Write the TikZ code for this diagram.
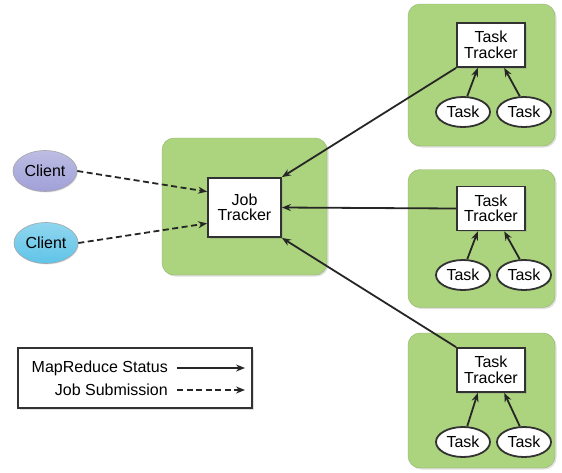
\documentclass[tikz,border=0pt]{standalone}
\usepackage{fontspec}
\setmainfont{Liberation Sans}
\usetikzlibrary{arrows.meta,shadows,calc,shapes.geometric}

\definecolor{hostgreen}{RGB}{172,211,126}
\definecolor{edgegray}{RGB}{50,50,50}
\definecolor{clientlav}{RGB}{160,160,216}
\definecolor{clientblue}{RGB}{96,196,232}

\tikzset{
  labelfont/.style={font=\fontsize{16}{15.5}\selectfont},
  host/.style={draw=hostgreen!85!black, line width=0.4pt, fill=hostgreen, rounded corners=12pt,
    drop shadow={opacity=0.25, shadow xshift=1.5pt, shadow yshift=-1.5pt}},
  tracker/.style={draw=edgegray, line width=1.8pt, fill=white, inner sep=0pt, align=center,
    labelfont, drop shadow={opacity=0.25, shadow xshift=1.5pt, shadow yshift=-1.5pt}},
  taskel/.style={ellipse, draw=edgegray, line width=1.8pt, fill=white, inner sep=0pt,
    minimum width=54pt, minimum height=30pt, labelfont},
  clientel/.style={ellipse, draw=gray!70, line width=0.6pt, inner sep=0pt,
    minimum width=64pt, minimum height=41pt, labelfont,
    drop shadow={opacity=0.2, shadow xshift=1pt, shadow yshift=-1pt}},
  status/.style={line width=1.8pt, draw=black!85, -{Stealth[length=9pt,width=7pt,inset=3pt]}},
  submit/.style={status, dash pattern=on 6pt off 3.5pt},
  legtext/.style={anchor=east, inner sep=0pt, labelfont},
}

\begin{document}
\begin{tikzpicture}[x=1pt,y=-1pt]
  \useasboundingbox (0,0) rectangle (562,472);

  % hosts
  \node[host, minimum width=165pt, minimum height=137pt] (jhost) at (244.5,206.5) {};
  \node[host, minimum width=147pt, minimum height=142pt] (host1) at (481.5,75) {};
  \node[host, minimum width=147pt, minimum height=138pt] (host2) at (481.5,238.5) {};
  \node[host, minimum width=147pt, minimum height=135pt] (host3) at (481.5,400.5) {};

  % job tracker and clients
  \node[tracker, minimum width=73pt, minimum height=59pt] (jt) at (244.5,207.5) {Job\\Tracker};
  \node[clientel, top color=clientlav!70!white, bottom color=clientlav] (c1) at (45,171) {Client};
  \node[clientel, top color=clientblue!70!white, bottom color=clientblue] (c2) at (46,243) {Client};

  % task trackers and their tasks
  \node[tracker, minimum width=68pt, minimum height=44pt] (tt1) at (491,45) {Task\\Tracker};
  \node[tracker, minimum width=68pt, minimum height=44pt] (tt2) at (491,208.5) {Task\\Tracker};
  \node[tracker, minimum width=68pt, minimum height=44pt] (tt3) at (491,370) {Task\\Tracker};

  \node[taskel] (t1a) at (463,112) {Task};
  \node[taskel] (t1b) at (524,112) {Task};
  \node[taskel] (t2a) at (463,275) {Task};
  \node[taskel] (t2b) at (524,275) {Task};
  \node[taskel] (t3a) at (463,442) {Task};
  \node[taskel] (t3b) at (524,442) {Task};

  % status reports
  \foreach \i in {1,2,3}{
    \draw[status] (t\i a.75) -- (tt\i.240);
    \draw[status] (t\i b.105) -- (tt\i.300);
  }
  \draw[status] (tt1.south west) -- (jt.north east);
  \draw[status] (tt2.west) -- (jt.east);
  \draw[status] (tt3.north west) -- (jt.south east);

  % job submissions
  \draw[submit] (c1.east) -- (jt.157);
  \draw[submit] (c2.east) -- (jt.203);

  % legend
  \node[draw=edgegray, line width=1.8pt, fill=white, minimum width=234pt, minimum height=60pt,
    drop shadow={opacity=0.25, shadow xshift=1.5pt, shadow yshift=-1.5pt}] (legend) at (135,378) {};
  \node[legtext] (lstatus) at (168,368) {MapReduce Status};
  \node[legtext] (lsubmit) at (168,390) {Job Submission};
  \coordinate (lstatusend) at (245,368);
  \coordinate (lsubmitend) at (245,390);
  \draw[status] ([xshift=9pt]lstatus.east) -- (lstatusend);
  \draw[submit] ([xshift=9pt]lsubmit.east) -- (lsubmitend);
\end{tikzpicture}
\end{document}
